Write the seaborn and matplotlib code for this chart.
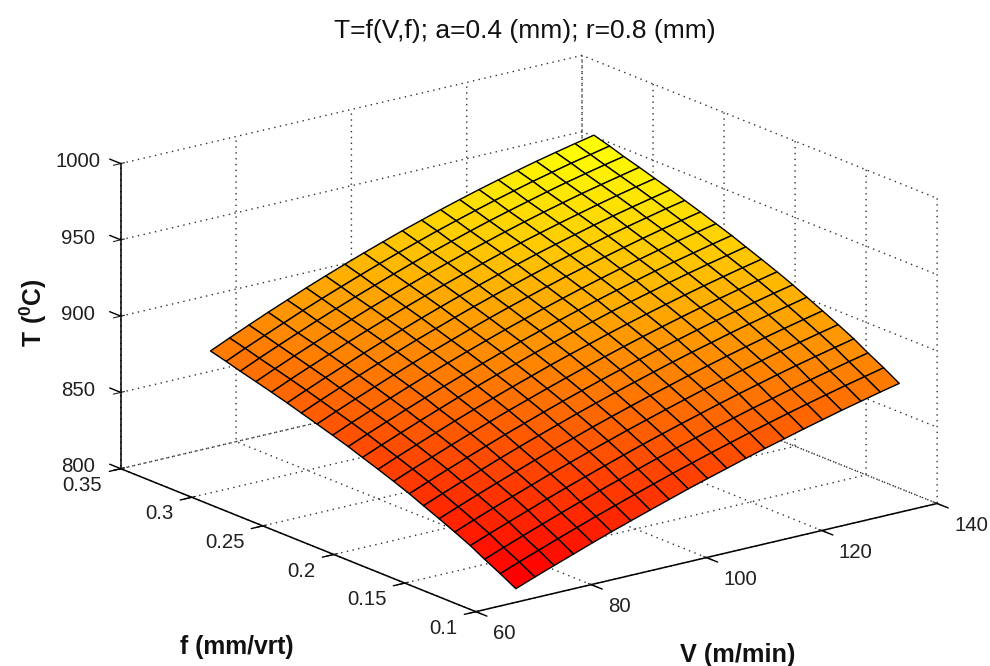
import matplotlib
matplotlib.use("Agg")
import matplotlib.pyplot as plt
import numpy as np
import seaborn as sns

sns.set_style("white")
plt.rcParams["font.family"] = ["Liberation Sans", "DejaVu Sans"]
plt.rcParams["mathtext.fontset"] = "custom"
plt.rcParams["mathtext.bf"] = "Liberation Sans:bold"
plt.rcParams["mathtext.rm"] = "Liberation Sans"

# values
V = [69.4, 72.7, 76.05, 79.4, 82.7, 86.0, 89.35, 92.7, 96.0, 99.3, 102.65,
     106.0, 109.3, 112.6, 115.95, 119.3, 122.6, 125.9, 129.25, 132.6, 135.9]
f = [0.110, 0.121, 0.132, 0.142, 0.153, 0.164, 0.175, 0.185, 0.196, 0.207, 0.218,
     0.228, 0.239, 0.250, 0.261, 0.271, 0.282, 0.293, 0.304, 0.314, 0.325]
T = [
    [803.0, 807.7, 812.3, 816.8, 821.3, 825.6, 829.8, 833.9, 837.9, 841.9, 845.7, 849.4, 853.1, 856.6, 860.0, 863.4, 866.6, 869.8, 872.8, 875.8, 878.6],
    [808.7, 813.5, 818.1, 822.7, 827.1, 831.5, 835.7, 839.9, 843.9, 847.9, 851.7, 855.5, 859.1, 862.7, 866.1, 869.5, 872.7, 875.8, 878.9, 881.8, 884.7],
    [814.0, 818.8, 823.5, 828.1, 832.6, 837.0, 841.3, 845.4, 849.5, 853.5, 857.4, 861.1, 864.8, 868.3, 871.8, 875.1, 878.4, 881.5, 884.5, 887.5, 890.3],
    [819.2, 824.1, 828.8, 833.4, 838.0, 842.4, 846.7, 850.9, 855.0, 859.0, 862.9, 866.7, 870.3, 873.9, 877.4, 880.7, 884.0, 887.1, 890.1, 893.0, 895.8],
    [824.0, 828.9, 833.7, 838.4, 842.9, 847.4, 851.7, 856.0, 860.1, 864.1, 868.0, 871.8, 875.5, 879.1, 882.5, 885.9, 889.1, 892.3, 895.3, 898.2, 901.0],
    [828.6, 833.5, 838.4, 843.1, 847.7, 852.2, 856.6, 860.8, 865.0, 869.0, 872.9, 876.8, 880.4, 884.0, 887.5, 890.9, 894.1, 897.2, 900.2, 903.1, 905.9],
    [833.0, 838.0, 842.9, 847.6, 852.3, 856.8, 861.2, 865.5, 869.7, 873.7, 877.7, 881.5, 885.2, 888.8, 892.3, 895.6, 898.9, 902.0, 905.0, 907.9, 910.7],
    [837.1, 842.1, 847.1, 851.9, 856.5, 861.1, 865.5, 869.9, 874.1, 878.1, 882.1, 885.9, 889.7, 893.3, 896.7, 900.1, 903.4, 906.5, 909.5, 912.4, 915.1],
    [841.1, 846.2, 851.1, 856.0, 860.7, 865.3, 869.8, 874.1, 878.3, 882.4, 886.4, 890.3, 894.0, 897.6, 901.1, 904.5, 907.7, 910.8, 913.8, 916.7, 919.5],
    [844.9, 850.0, 855.0, 859.9, 864.7, 869.3, 873.8, 878.2, 882.4, 886.6, 890.6, 894.4, 898.2, 901.8, 905.3, 908.7, 911.9, 915.0, 918.0, 920.9, 923.6],
    [848.5, 853.7, 858.7, 863.7, 868.4, 873.1, 877.6, 882.0, 886.3, 890.5, 894.5, 898.4, 902.1, 905.8, 909.3, 912.6, 915.9, 919.0, 922.0, 924.8, 927.6],
    [851.9, 857.1, 862.2, 867.2, 872.0, 876.7, 881.3, 885.7, 890.0, 894.2, 898.2, 902.1, 905.9, 909.5, 913.0, 916.4, 919.7, 922.8, 925.7, 928.6, 931.3],
    [855.2, 860.5, 865.6, 870.6, 875.5, 880.2, 884.8, 889.3, 893.6, 897.8, 901.8, 905.8, 909.5, 913.2, 916.7, 920.1, 923.3, 926.4, 929.4, 932.2, 934.9],
    [858.4, 863.7, 868.9, 873.9, 878.8, 883.6, 888.2, 892.7, 897.1, 901.3, 905.4, 909.3, 913.1, 916.8, 920.3, 923.7, 926.9, 930.0, 933.0, 935.8, 938.5],
    [861.5, 866.9, 872.1, 877.2, 882.1, 886.9, 891.6, 896.1, 900.5, 904.7, 908.8, 912.7, 916.5, 920.2, 923.7, 927.1, 930.4, 933.5, 936.4, 939.3, 941.9],
    [864.4, 869.8, 875.1, 880.2, 885.2, 890.0, 894.7, 899.3, 903.7, 907.9, 912.0, 916.0, 919.8, 923.5, 927.0, 930.4, 933.7, 936.8, 939.7, 942.5, 945.2],
    [867.3, 872.8, 878.1, 883.2, 888.3, 893.1, 897.8, 902.4, 906.8, 911.1, 915.2, 919.2, 923.1, 926.8, 930.3, 933.7, 936.9, 940.0, 943.0, 945.8, 948.4],
    [870.1, 875.6, 881.0, 886.2, 891.2, 896.1, 900.9, 905.5, 909.9, 914.2, 918.4, 922.4, 926.2, 929.9, 933.5, 936.9, 940.1, 943.2, 946.1, 948.9, 951.6],
    [872.8, 878.4, 883.8, 889.0, 894.1, 899.0, 903.8, 908.4, 912.9, 917.2, 921.4, 925.4, 929.3, 933.0, 936.5, 939.9, 943.2, 946.3, 949.2, 952.0, 954.6],
    [875.5, 881.1, 886.5, 891.8, 897.0, 901.9, 906.7, 911.4, 915.9, 920.2, 924.4, 928.5, 932.3, 936.0, 939.6, 943.0, 946.3, 949.3, 952.3, 955.0, 957.7],
    [878.2, 883.8, 889.3, 894.7, 899.8, 904.8, 909.7, 914.4, 918.9, 923.2, 927.5, 931.5, 935.4, 939.1, 942.7, 946.1, 949.3, 952.4, 955.3, 958.1, 960.7],
]
V_ticks = [60, 80, 100, 120, 140]
f_ticks = [0.1, 0.15, 0.2, 0.25, 0.3, 0.35]
f_labels = ["0.1", "0.15", "0.2", "0.25", "0.3", "0.35"]
T_ticks = [800, 850, 900, 950, 1000]

fig = plt.figure(figsize=(9.9, 6.66), dpi=100)
ax = fig.add_axes([0.0252, -0.0143, 1.0, 1.0], projection="3d", computed_zorder=False)
ax.set_proj_type("ortho")
ax.view_init(elev=17.9, azim=-127.35)
ax.set_box_aspect((580, 585, 320.5), zoom=1.289)

X, Y = np.meshgrid(V, f)
Z = np.array(T)
surf = ax.plot_surface(X, Y, Z, rstride=1, cstride=1, cmap=sns.color_palette("autumn", as_cmap=True),
                       shade=False, edgecolor="black", linewidth=1.0, antialiased=True, zorder=5)
surf.set_clip_on(False)

ax.set_xlim(60, 140, view_margin=0)
ax.set_ylim(0.1, 0.35, view_margin=0)
ax.set_zlim(800, 1000, view_margin=0)
ax.set_xticks(V_ticks)
ax.set_yticks(f_ticks)
ax.set_yticklabels(f_labels)
ax.set_zticks(T_ticks)
ax.tick_params(labelsize=14.7, labelcolor="#202020")
ax.tick_params(axis="x", pad=4)
ax.tick_params(axis="y", pad=2)
ax.tick_params(axis="z", pad=5)

for lab in ax.get_xticklabels():
    lab.set_ha("left")
    lab.set_va("center")
for lab in ax.get_yticklabels():
    lab.set_ha("right")
    lab.set_va("center")
for lab in ax.get_zticklabels():
    lab.set_va("center")

for axis in (ax.xaxis, ax.yaxis, ax.zaxis):
    axis.pane.set_facecolor("white")
    axis.pane.set_edgecolor("none")
    axis.line.set_color("black")
    axis.line.set_linewidth(1.1)
    axis.line.set_clip_on(False)
    axis._axinfo["grid"].update(color="#303030", linestyle=(0, (1, 3.2)), linewidth=1.0)

# tick marks, the built in ones do not show up here
tick_style = dict(color="black", linewidth=1.0, clip_on=False, zorder=1)
for v in V_ticks:
    ax.plot([v, v], [0.1, 0.0922], [800, 800], **tick_style)
for ff in f_ticks:
    ax.plot([60, 58], [ff, ff], [800, 800], **tick_style)
for t in T_ticks:
    ax.plot([60, 60], [0.35, 0.3578], [t, t], **tick_style)

fig.text(525 / 990, 1 - 31 / 666, "T=f(V,f); a=0.4 (mm); r=0.8 (mm)", ha="center", va="center", fontsize=19, color="#111111")
fig.text(33 / 990, 1 - 313 / 666, r"$\mathbf{T\ (^{0}C)}$", rotation=90, ha="center", va="center", fontsize=17.7, color="#111111")
fig.text(237 / 990, 1 - 647 / 666, "f (mm/vrt)", ha="center", va="center", fontsize=17.8, fontweight="bold", color="#111111")
fig.text(738 / 990, 1 - 655 / 666, "V (m/min)", ha="center", va="center", fontsize=18.2, fontweight="bold", color="#111111")

plt.savefig("out.png", dpi=100)
